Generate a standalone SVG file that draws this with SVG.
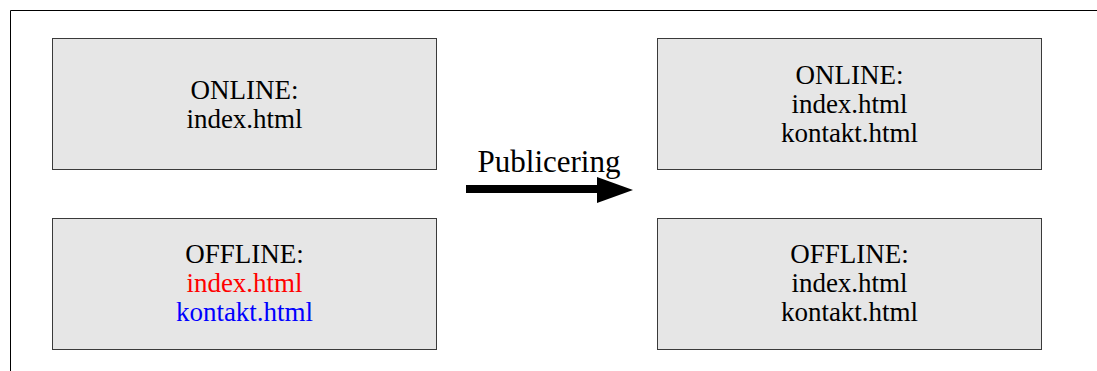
<svg xmlns="http://www.w3.org/2000/svg" width="1097" height="371" viewBox="0 0 1097 371">
<style>
.box{fill:#e6e6e6;stroke:#3a3a3a;stroke-width:1}
.t{font-family:"Liberation Serif","Times New Roman",serif;font-size:27px;fill:#000;text-anchor:middle}
.red{fill:#ff0000}
.blue{fill:#0000ff}
</style>
<rect width="1097" height="371" fill="#fff"/>
<path d="M10.5,371 V10.5 H1097" fill="none" stroke="#000" stroke-width="1"/>
<g id="online-before">
<rect class="box" x="52.5" y="38.5" width="384" height="131"/>
<text class="t" x="244.5" y="99">ONLINE:</text>
<text class="t" x="244.5" y="128">index.html</text>
</g>
<g id="offline-before">
<rect class="box" x="52.5" y="218.5" width="384" height="131"/>
<text class="t" x="244.5" y="263">OFFLINE:</text>
<text class="t red" x="244.5" y="292">index.html</text>
<text class="t blue" x="244.5" y="321">kontakt.html</text>
</g>
<g id="online-after">
<rect class="box" x="657.5" y="38.5" width="384" height="131"/>
<text class="t" x="849.5" y="84">ONLINE:</text>
<text class="t" x="849.5" y="113">index.html</text>
<text class="t" x="849.5" y="142">kontakt.html</text>
</g>
<g id="offline-after">
<rect class="box" x="657.5" y="218.5" width="384" height="131"/>
<text class="t" x="849.5" y="263">OFFLINE:</text>
<text class="t" x="849.5" y="292">index.html</text>
<text class="t" x="849.5" y="321">kontakt.html</text>
</g>
<g id="connectors">
<rect x="466" y="185" width="134" height="8" fill="#000"/>
<polygon points="597,177 633,190 597,203" fill="#000"/>
<text class="t" x="549" y="172" style="font-size:31px">Publicering</text>
</g>
</svg>
